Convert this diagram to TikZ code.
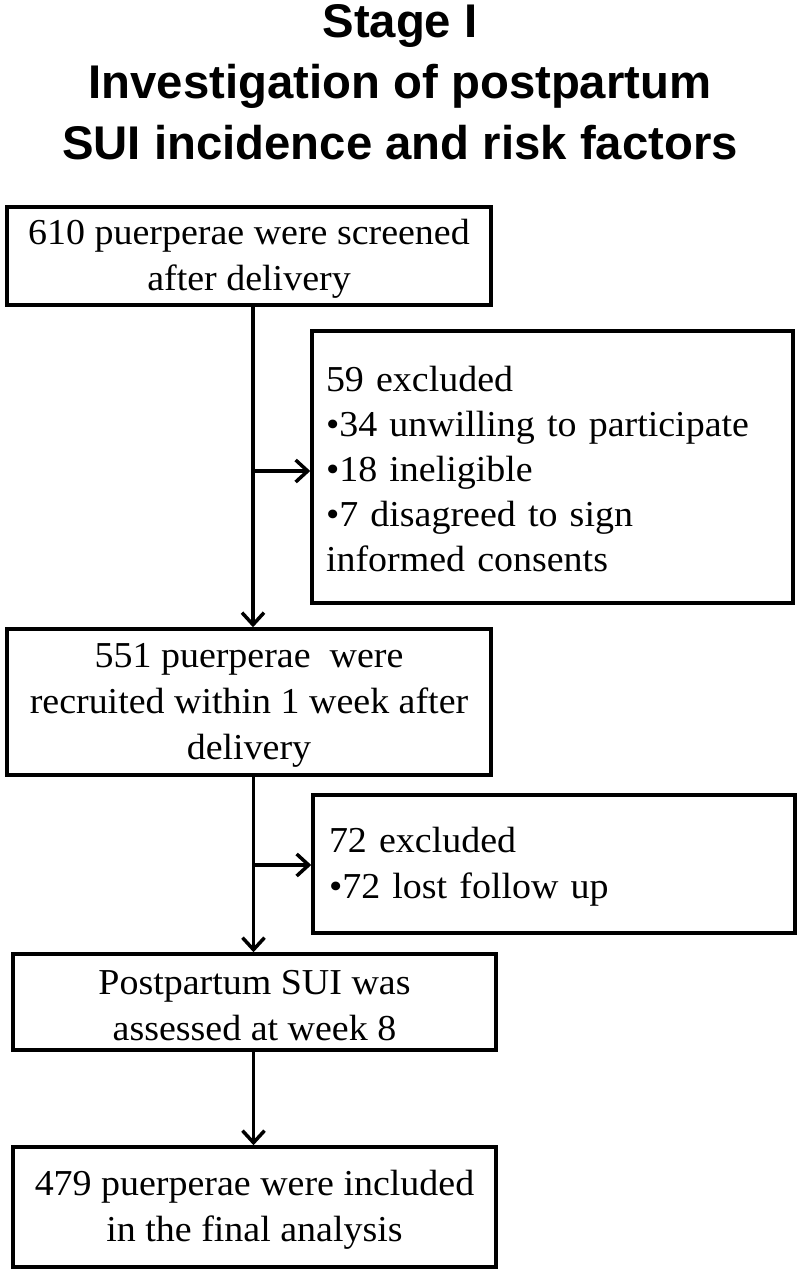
\documentclass[tikz,border=0pt]{standalone}
\usepackage{fontspec}
\setmainfont{Liberation Serif}[FakeStretch=1.04]
\newfontfamily\titlefont{Liberation Sans}
\usetikzlibrary{arrows.meta}
\newcommand\myTopStrut{\rule{0pt}{31pt}}
\begin{document}
\begin{tikzpicture}[x=1pt,y=-1pt,
  flowbox/.style={draw=black, line width=3.5pt, inner sep=0pt, fill=white,
    align=center, font=\fontsize{36.5}{46}\selectfont},
  sidebox/.style={flowbox, align=left},
  link/.style={draw=black, line width=3.5pt, -{Straight Barb[length=12pt,width=22pt]}},
  titletext/.style={inner sep=0pt, align=center,
    font=\titlefont\bfseries\fontsize{47.3}{61}\selectfont}
]
\path[use as bounding box, fill=white] (0,0) rectangle (800,1275);

\node[titletext, anchor=north] (title) at (400,4.5)
  {Stage I\\Investigation of postpartum\\SUI incidence and risk factors};

\node[flowbox, minimum width=484pt, minimum height=98pt] (b1) at (249,256)
  {\myTopStrut 610 puerperae were screened\\after delivery};

\node[sidebox, text width=453pt, minimum width=481pt, minimum height=272pt,
  font=\fontsize{36.5}{45}\selectfont] (b2) at (552.5,467)
  {\rule{0pt}{30pt}59 excluded\\•34 unwilling to participate\\•18 ineligible\\•7 disagreed to sign\\informed consents};

\node[flowbox, minimum width=484pt, minimum height=146pt] (b3) at (249,702)
  {\myTopStrut 551 puerperae\ \ were\\recruited within 1 week after\\delivery};

\node[sidebox, text width=450pt, minimum width=482pt, minimum height=138pt] (b4) at (554,864)
  {\myTopStrut 72 excluded\\•72 lost follow up};

\node[flowbox, minimum width=483pt, minimum height=96pt] (b5) at (254.5,1002)
  {\myTopStrut Postpartum SUI was\\assessed at week 8};

\node[flowbox, minimum width=483pt, minimum height=120pt] (b6) at (254.5,1207)
  {\myTopStrut 479 puerperae were included\\in the final analysis};

\coordinate (j1) at (253,471);
\coordinate (j2) at (253.5,865);

\draw[link] (b1.south -| j1) -- (b3.north -| j1);
\draw[link] (j1) -- (j1 -| b2.west);
\draw[link] (b3.south -| j2) -- (b5.north -| j2);
\draw[link] (j2) -- (j2 -| b4.west);
\draw[link] (b5.south -| j2) -- (b6.north -| j2);
\end{tikzpicture}
\end{document}
